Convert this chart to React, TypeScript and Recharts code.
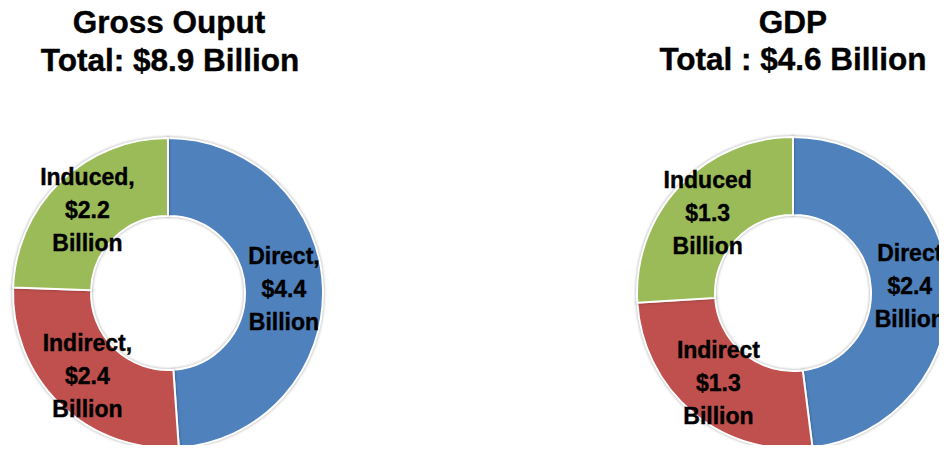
import { PieChart, Pie, Cell } from 'recharts'

const categories = ['Direct', 'Indirect', 'Induced']
const grossOutput = [4.4, 2.4, 2.2]
const gdp = [2.4, 1.3, 1.3]
const colors = ['#4F81BD', '#C0504D', '#9BBB59']

const leftTitle = ['Gross Ouput', 'Total: $8.9 Billion']
const rightTitle = ['GDP', 'Total : $4.6 Billion']

const RAD = Math.PI / 180

const makeLabel = (withComma: boolean) => (props: any) => {
  const { cx, cy, midAngle, innerRadius, outerRadius, name, value } = props
  const r = (innerRadius + outerRadius) / 2
  const x = cx + r * Math.cos(-midAngle * RAD)
  const y = cy + r * Math.sin(-midAngle * RAD)
  const lines = [withComma ? `${name},` : name, `$${value.toFixed(1)}`, 'Billion']
  return (
    <text
      x={x}
      y={y}
      textAnchor="middle"
      fill="#000"
      stroke="#000"
      strokeWidth={0.4}
      fontFamily="Liberation Sans, Arial, sans-serif"
      fontWeight="bold"
      fontSize={23}
    >
      {lines.map((l, i) => (
        <tspan key={i} x={x} y={y + (i - 1) * 33} dominantBaseline="central">
          {l}
        </tspan>
      ))}
    </text>
  )
}

export default function App() {
  const left = categories.map((c, i) => ({ name: c, value: grossOutput[i] }))
  const right = categories.map((c, i) => ({ name: c, value: gdp[i] }))

  return (
    <div style={{ position: 'relative', width: 947, height: 453, margin: -8, background: '#fff', overflow: 'hidden' }}>
      <PieChart width={947} height={453} margin={{ top: 0, right: 0, bottom: 0, left: 0 }}>
        <Pie
          data={left}
          dataKey="value"
          nameKey="name"
          cx={168}
          cy={293}
          innerRadius={77}
          outerRadius={155}
          startAngle={90}
          endAngle={-270}
          stroke="#fff"
          strokeWidth={2}
          label={makeLabel(true)}
          labelLine={false}
          isAnimationActive={false}
          style={{ filter: 'drop-shadow(0px 0px 1.5px rgba(0,0,0,0.35))' }}
        >
          {left.map((d, i) => (
            <Cell key={d.name} fill={colors[i]} />
          ))}
        </Pie>
        <Pie
          data={right}
          dataKey="value"
          nameKey="name"
          cx={793}
          cy={293}
          innerRadius={78}
          outerRadius={156}
          startAngle={90}
          endAngle={-270}
          stroke="#fff"
          strokeWidth={2}
          label={makeLabel(false)}
          labelLine={false}
          isAnimationActive={false}
          style={{ filter: 'drop-shadow(0px 0px 1.5px rgba(0,0,0,0.35))' }}
        >
          {right.map((d, i) => (
            <Cell key={d.name} fill={colors[i]} />
          ))}
        </Pie>
      </PieChart>
      <svg
        width={947}
        height={453}
        style={{ position: 'absolute', left: 0, top: 0, pointerEvents: 'none' }}
        fontFamily="Liberation Sans, Arial, sans-serif"
        fontWeight="bold"
        fontSize={31.5}
        stroke="#000"
        strokeWidth={0.4}
        textAnchor="middle"
      >
        <text x={169} y={33}>{leftTitle[0]}</text>
        <text x={170} y={71}>{leftTitle[1]}</text>
        <text x={793} y={33}>{rightTitle[0]}</text>
        <text x={793} y={70}>{rightTitle[1]}</text>
      </svg>
    </div>
  )
}
